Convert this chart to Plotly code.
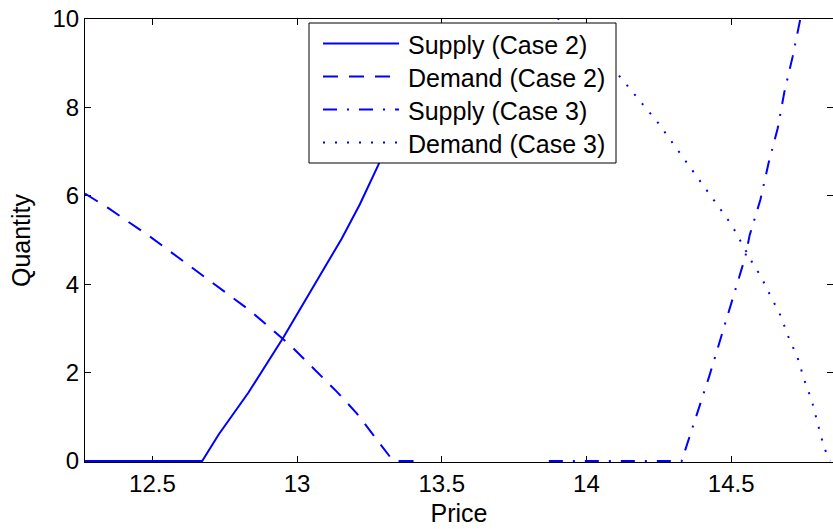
import plotly.graph_objects as go

# Price / quantity curves for the two market cases
supply2_price = [12.267, 12.672, 12.729, 12.832, 12.953, 13.022, 13.079, 13.154, 13.217, 13.280, 13.44]
supply2_qty = [0.0, 0.0, 0.60, 1.55, 2.80, 3.56, 4.20, 5.03, 5.81, 6.69, 9.3]

demand2_price = [12.267, 12.348, 12.493, 12.579, 12.666, 12.746, 12.832, 12.913, 12.987,
                 13.062, 13.137, 13.206, 13.269, 13.332, 13.44]
demand2_qty = [6.05, 5.72, 5.07, 4.65, 4.24, 3.83, 3.43, 2.98, 2.55,
               2.06, 1.57, 1.08, 0.54, 0.0, 0.0]

supply3_price = [13.87, 14.329, 14.424, 14.549, 14.564, 14.601, 14.629, 14.661, 14.684, 14.713, 14.739, 14.76]
supply3_qty = [0.0, 0.0, 1.91, 4.62, 5.11, 5.91, 6.73, 7.53, 8.35, 9.16, 10.0, 10.6]

demand3_price = [13.87, 14.101, 14.25, 14.388, 14.503, 14.578, 14.601, 14.635, 14.670,
                 14.698, 14.730, 14.753, 14.779, 14.799, 14.819, 14.833, 14.843]
demand3_qty = [10.2, 8.81, 7.63, 6.39, 5.33, 4.43, 4.20, 3.75, 3.30,
               2.81, 2.33, 1.83, 1.36, 0.85, 0.36, 0.11, 0.0]

series_names = ["Supply (Case 2)", "Demand (Case 2)", "Supply (Case 3)", "Demand (Case 3)"]
x_ticks = [12.5, 13, 13.5, 14, 14.5]
x_tick_text = ["12.5", "13", "13.5", "14", "14.5"]
y_ticks = [0, 2, 4, 6, 8, 10]

BLUE = "rgb(0,0,255)"
dashes = ["solid", "15px,11px", "14px,10px,2px,10px", "2px,10px"]
FONT = "Liberation Sans, Arial, Helvetica, sans-serif"

W, H = 833, 529
L, R, T, B = 85, 0, 19, 67
PW, PH = W - L - R, H - T - B

# one pixel of headroom below zero so curves lying on the axis keep their full width
Y_LOW = -1.0 / 44.25


def pxx(x):
    return (x - L) / PW


def pxy(y):
    return (T + PH - y) / PH


fig = go.Figure()
curves = [
    (supply2_price, supply2_qty),
    (demand2_price, demand2_qty),
    (supply3_price, supply3_qty),
    (demand3_price, demand3_qty),
]
for (xs, ys), name, dash in zip(curves, series_names, dashes):
    fig.add_trace(go.Scatter(
        x=xs, y=ys, mode="lines", name=name, showlegend=False,
        line=dict(color=BLUE, width=2, dash=dash),
    ))

# Boxed legend in the upper middle of the axes
shapes = [dict(type="rect", xref="paper", yref="paper",
               x0=pxx(309), x1=pxx(616), y0=pxy(163), y1=pxy(23),
               line=dict(color="black", width=1), fillcolor="white", layer="above")]
annotations = []
rows = [43.5, 76.5, 109.5, 142.5]
for name, dash, ry in zip(series_names, dashes, rows):
    shapes.append(dict(type="line", xref="paper", yref="paper",
                       x0=pxx(323), x1=pxx(399), y0=pxy(ry), y1=pxy(ry),
                       line=dict(color=BLUE, width=2, dash=dash), layer="above"))
    annotations.append(dict(xref="paper", yref="paper", x=pxx(406), y=pxy(ry + 1),
                            text=name, showarrow=False, xanchor="left", yanchor="middle",
                            font=dict(family=FONT, size=25, color="black")))

axis_common = dict(
    showline=True, linecolor="black", linewidth=1, mirror="ticks",
    ticks="inside", ticklen=6, tickwidth=1, tickcolor="black",
    showgrid=False, zeroline=False, layer="below traces",
    tickfont=dict(family=FONT, size=24, color="black"),
)

fig.update_layout(
    width=W, height=H,
    margin=dict(l=L, r=R, t=T, b=B),
    paper_bgcolor="white", plot_bgcolor="white",
    font=dict(family=FONT, color="black"),
    xaxis=dict(range=[12.267, 14.852], tickvals=x_ticks, ticktext=x_tick_text,
               title=dict(text="Price", font=dict(family=FONT, size=25), standoff=8),
               **axis_common),
    yaxis=dict(range=[Y_LOW, 10], tickvals=y_ticks,
               title=dict(text="Quantity", font=dict(family=FONT, size=25), standoff=14),
               **axis_common),
    shapes=shapes,
    annotations=annotations,
)

fig.write_html("out.html")
